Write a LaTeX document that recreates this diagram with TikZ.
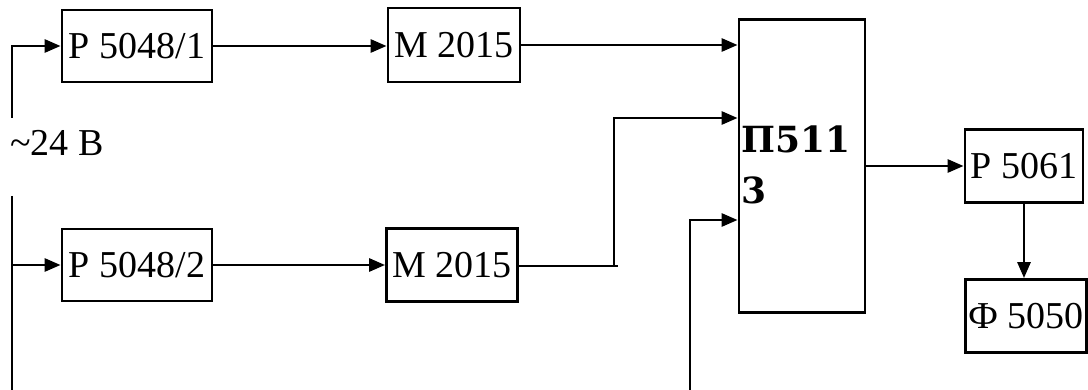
\documentclass[tikz,border=0pt]{standalone}
\usepackage{fontspec}
\setmainfont{Liberation Serif}
\newfontfamily\pfont{DejaVu Serif}
\usetikzlibrary{arrows.meta}
\begin{document}
\begin{tikzpicture}[x=1pt,y=-1pt,
  blk/.style={draw,line width=2.8pt,inner sep=0pt,font=\fontsize{38}{44}\selectfont},
  conn/.style={line width=2.8pt},
  arr/.style={conn,-{Triangle[length=16pt,width=13pt]}}]
\useasboundingbox (0,0) rectangle (1088,390);
\node[blk,minimum width=150pt,minimum height=72pt] (p1) at (137,46) {Р 5048/1};
\node[blk,minimum width=150pt,minimum height=72pt] (p2) at (137,265) {Р 5048/2};
\node[blk,minimum width=132pt,minimum height=74pt] (m1) at (454,45) {М 2015};
\node[blk,minimum width=131pt,minimum height=73pt] (m2) at (452,265) {М 2015};
\node[blk,minimum width=126pt,minimum height=293pt] (pp) at (802,166) {};
\node[anchor=base west,inner sep=0pt,align=left,font=\pfont\bfseries\fontsize{36}{51}\selectfont] (ptxt) at (741,204) {П511\\3};
\node[blk,minimum width=118pt,minimum height=73pt] (r) at (1024,166) {Р 5061};
\node[blk,minimum width=121pt,minimum height=73pt] (f) at (1026,316) {Ф 5050};
\node[anchor=base west,inner sep=0pt,font=\fontsize{38}{44}\selectfont] (v) at (10,156) {\textasciitilde24 В};
\coordinate (a1) at (12,118);
\coordinate (a2) at (12,196);
\coordinate (a3) at (12,390);
\coordinate (b1) at (618,266);
\coordinate (b2) at (614,266);
\coordinate (c1) at (690,390);
\coordinate (d1) at (0,118);
\coordinate (d2) at (0,220);
\draw[arr] (a1) |- (p1.west);
\draw[conn] (a2) -- (a3);
\draw[arr] (a2 |- p2.west) -- (p2.west);
\draw[arr] (p1.east) -- (m1.west |- p1.east);
\draw[arr] (p2.east) -- (m2.west |- p2.east);
\draw[arr] (m1.east) -- (m1.east -| pp.west);
\draw[conn] (m2.east |- b1) -- (b1);
\draw[arr] (b2) |- (d1 -| pp.west);
\draw[arr] (c1) |- (d2 -| pp.west);
\draw[arr] (pp.east |- r.west) -- (r.west);
\draw[arr] (r.south) -- (f.north -| r.south);
\end{tikzpicture}
\end{document}
